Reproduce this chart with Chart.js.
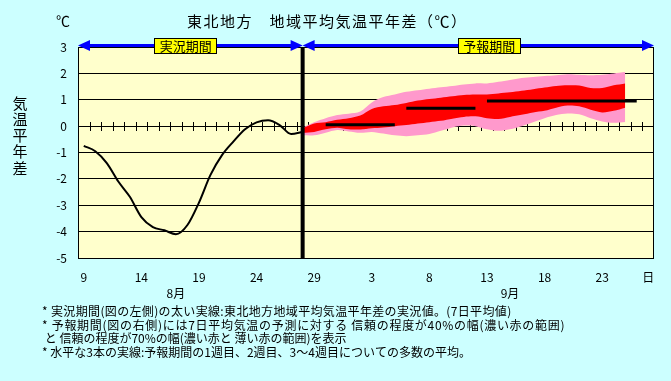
<!DOCTYPE html>
<html><head><meta charset="utf-8">
<script src="https://cdn.jsdelivr.net/npm/chart.js@4/dist/chart.umd.min.js"></script>
<style>html,body{margin:0;padding:0;background:#CCFFFF;overflow:hidden}</style>
</head><body><canvas id="c" width="671" height="381"></canvas>
<script>
// ---- data ----
const days = [9,10,11,12,13,14,15,16,17,18,19,20,21,22,23,24,25,26,27,28,29,30,31,
              1,2,3,4,5,6,7,8,9,10,11,12,13,14,15,16,17,18,19,20,21,22,23,24,25,26,27];
const lastTickLabel = '日';
const months = ['8月','9月'];
const monthAt = [8, 37];
const yTicks = [3,2,1,0,-1,-2,-3,-4,-5];

const observed = [-0.75,-0.95,-1.4,-2.1,-2.68,-3.45,-3.83,-3.95,-4.1,-3.75,
                  -2.9,-1.85,-1.1,-0.58,-0.12,0.14,0.22,0.04,-0.3,-0.22];
const forecastStart = 19;
const pinkTop = [-0.05,0.15,0.3,0.42,0.47,0.55,0.9,1.1,1.2,1.3,1.36,1.42,1.47,1.52,1.58,1.62,
                 1.62,1.68,1.75,1.82,1.86,1.9,1.93,1.97,1.95,1.93,1.95,2.0,2.05];
const pinkBottom = [-0.35,-0.35,-0.25,-0.15,-0.2,-0.25,-0.22,-0.28,-0.35,-0.38,-0.35,-0.3,-0.18,-0.05,0.02,0.0,
                    -0.12,-0.18,-0.12,0.0,0.15,0.3,0.42,0.48,0.45,0.3,0.18,0.13,0.16];
const redTop = [-0.08,0.1,0.15,0.24,0.3,0.4,0.65,0.75,0.8,0.88,0.97,1.03,1.08,1.13,1.18,1.2,
                1.2,1.24,1.28,1.34,1.4,1.46,1.52,1.55,1.54,1.45,1.45,1.55,1.62];
const redBottom = [-0.25,-0.22,-0.12,-0.06,-0.12,-0.13,-0.08,-0.05,0.0,0.04,0.1,0.15,0.2,0.28,0.35,0.37,
                   0.3,0.27,0.35,0.43,0.52,0.58,0.7,0.78,0.75,0.62,0.52,0.58,0.7];
const weekMean = [0.05, 0.68, 0.95];
const weekFrom = [21, 28, 35];
const weekTo   = [27, 34, 48];
const periodNames = ['実況期間','予報期間'];
const periodLabelAt = [8.85, 35.2];

const titleText = '東北地方　地域平均気温平年差（℃）';
const unitText = '℃';
const yTitle = '気温平年差';
const notes = [
  '* 実況期間(図の左側)の太い実線:東北地方地域平均気温平年差の実況値。(7日平均値)',
  '* 予報期間(図の右側)には7日平均気温の予測に対する 信頼の程度が40%の幅(濃い赤の範囲)',
  ' と 信頼の程度が70%の幅(濃い赤と 薄い赤の範囲)を表示',
  '* 水平な3本の実線:予報期間の1週目、2週目、3～4週目についての多数の平均。'
];

// ---- build ----
const N = days.length;
const place = (arr, start) => Array.from({length:N}, (_,i) => (i>=start && i<start+arr.length) ? arr[i-start] : null);
const FONT = '"Noto Sans CJK JP", "Noto Sans", sans-serif';

const datasets = [
  {data: place(pinkTop, forecastStart), fill:'+1', backgroundColor:'#FF99CC', borderWidth:0, pointRadius:0, order:10, tension:0.3},
  {data: place(pinkBottom, forecastStart), fill:false, borderWidth:0, pointRadius:0, order:10, tension:0.3},
  {data: place(redTop, forecastStart), fill:'+1', backgroundColor:'#FF0000', borderWidth:0, pointRadius:0, order:9, tension:0.3},
  {data: place(redBottom, forecastStart), fill:false, borderWidth:0, pointRadius:0, order:9, tension:0.3},
  {data: place(observed, 0), borderColor:'#000', borderWidth:2, pointRadius:0, fill:false, order:1, cubicInterpolationMode:'monotone'}
];
weekMean.forEach((m,k) => {
  datasets.push({data: Array.from({length:N},(_,i)=> (i>=weekFrom[k] && i<=weekTo[k]) ? m : null),
    borderColor:'#000', borderWidth:3, pointRadius:0, fill:false, order:1, borderCapStyle:'butt'});
});

const decor = {
  id:'decor',
  beforeDraw(chart){
    const {ctx, chartArea:a} = chart;
    ctx.save();
    ctx.fillStyle = '#CCFFFF'; ctx.fillRect(0,0,chart.width,chart.height);
    ctx.fillStyle = '#FFFFCC'; ctx.fillRect(a.left,a.top,a.right-a.left,a.bottom-a.top);
    ctx.restore();
  },
  beforeDatasetsDraw(chart){
    const {ctx, scales:{x,y}} = chart;
    const y0 = Math.round(y.getPixelForValue(0));
    ctx.save(); ctx.strokeStyle='#000'; ctx.lineWidth=1;
    for (let i=1;i<N;i++){
      const px = Math.round(x.getPixelForValue(i-0.5))+0.5;
      ctx.beginPath(); ctx.moveTo(px,y0-4); ctx.lineTo(px,y0+5); ctx.stroke();
    }
    ctx.restore();
  },
  afterDatasetsDraw(chart){
    const {ctx, chartArea:a, scales:{x}} = chart;
    ctx.save();
    ctx.strokeStyle='#000'; ctx.lineWidth=1;
    ctx.strokeRect(Math.round(a.left)+0.5, Math.round(a.top)+0.5, Math.round(a.right-a.left)-1, Math.round(a.bottom-a.top));
    const xs = x.getPixelForValue(forecastStart);
    ctx.lineWidth=4; ctx.beginPath(); ctx.moveTo(xs,a.top+1); ctx.lineTo(xs,a.bottom); ctx.stroke();
    ctx.restore();
  },
  afterDraw(chart){
    const {ctx, chartArea:a, scales:{x,y}} = chart;
    ctx.save();
    // period arrows
    const xs = x.getPixelForValue(forecastStart);
    const ay = a.top - 1.5;
    const arrow = (x1,x2) => {
      ctx.strokeStyle='#0000FF'; ctx.fillStyle='#0000FF'; ctx.lineWidth=3;
      ctx.beginPath(); ctx.moveTo(x1+8,ay); ctx.lineTo(x2-8,ay); ctx.stroke();
      ctx.beginPath(); ctx.moveTo(x1,ay); ctx.lineTo(x1+12,ay-5.5); ctx.lineTo(x1+12,ay+5.5); ctx.closePath(); ctx.fill();
      ctx.beginPath(); ctx.moveTo(x2,ay); ctx.lineTo(x2-12,ay-5.5); ctx.lineTo(x2-12,ay+5.5); ctx.closePath(); ctx.fill();
    };
    arrow(a.left, xs); arrow(xs, a.right);
    ctx.font = '13px ' + FONT; ctx.textAlign='center'; ctx.textBaseline='middle';
    periodNames.forEach((t,k)=>{
      const cx = x.getPixelForValue(periodLabelAt[k]);
      const w = 63, h = 16;
      const bx = Math.round(cx - w/2), by = Math.round(ay - h/2);
      ctx.fillStyle='#FFFF00'; ctx.fillRect(bx,by,w,h);
      ctx.strokeStyle='#000'; ctx.lineWidth=1; ctx.strokeRect(bx+0.5,by+0.5,w-1,h-1);
      ctx.fillStyle='#000'; ctx.fillText(t, cx, ay+1);
    });
    // title and unit
    ctx.fillStyle='#000';
    ctx.font = '15px ' + FONT; ctx.textAlign='left';
    ctx.letterSpacing = '1.5px';
    ctx.fillText(titleText, 187, 21);
    ctx.letterSpacing = '0px';
    ctx.font = '14px ' + FONT;
    ctx.textAlign='center';
    ctx.fillText(unitText, 63, 21);
    // y title vertical
    ctx.font = '15px ' + FONT;
    [...yTitle].forEach((ch,k)=> ctx.fillText(ch, 20, 103 + k*16.2));
    // months
    ctx.font = '12px ' + FONT;
    months.forEach((m,k)=> ctx.fillText(m, x.getPixelForValue(monthAt[k]), 293));
    // notes
    ctx.textAlign='left';
    const ny = [311, 325, 338, 352];
    const ls = ['0.35px','0.7px','0px','0px'];
    notes.forEach((t,k)=> { ctx.letterSpacing = ls[k]; ctx.fillText(t, 42, ny[k]); });
    ctx.letterSpacing = '0px';
    ctx.restore();
  }
};

new Chart(document.getElementById('c'), {
  type:'line',
  data:{labels: days.map(String), datasets},
  options:{
    responsive:false, animation:false, devicePixelRatio:1,
    layout:{padding:{left:0,right:17,top:47,bottom:0}},
    plugins:{legend:{display:false}, tooltip:{enabled:false}, title:{display:false}},
    scales:{
      x:{type:'category', offset:true,
        grid:{display:false, drawTicks:false}, border:{display:false},
        ticks:{autoSkip:false, maxRotation:0, minRotation:0, padding:12, color:'#000', font:{family:FONT, size:12},
          callback:(v,i)=> (i===N-1) ? lastTickLabel : (i%5===0 ? String(days[i]) : '')},
        afterFit:s=>{ s.height = 123; }},
      y:{min:-5, max:3,
        afterBuildTicks:s=>{ s.ticks = yTicks.map(v=>({value:v})); },
        ticks:{padding:11, color:'#000', font:{family:FONT, size:12}},
        grid:{color:'#000', lineWidth:1, drawTicks:false}, border:{display:false},
        afterFit:s=>{ s.width = 78; }}
    }
  },
  plugins:[decor]
});
</script>
</body></html>
